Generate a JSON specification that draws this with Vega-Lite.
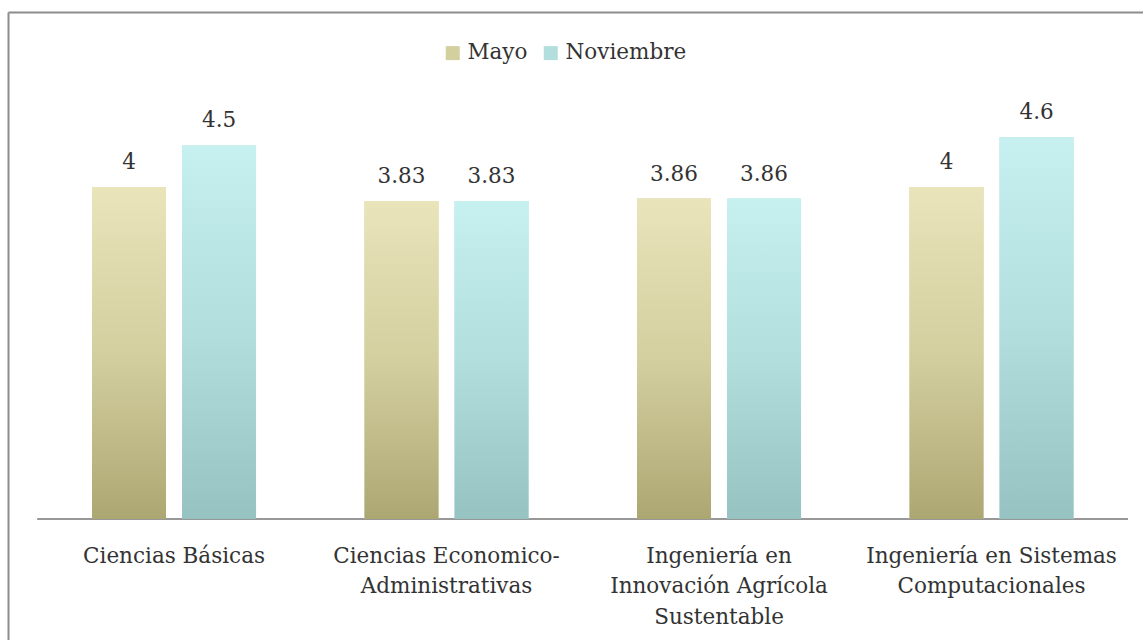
{
  "$schema": "https://vega.github.io/schema/vega-lite/v6.json",
  "autosize": "none",
  "width": 1135,
  "height": 628,
  "padding": {"left": 8, "top": 12, "right": 0, "bottom": 0},
  "background": "white",
  "config": {
    "view": {"stroke": null},
    "font": "DejaVu Serif",
    "legend": {"padding": 0}
  },
  "data": {
    "values": [
      {"Area": "Ciencias Básicas", "Periodo": "Mayo", "Valor": 4},
      {"Area": "Ciencias Básicas", "Periodo": "Noviembre", "Valor": 4.5},
      {"Area": "Ciencias Economico-Administrativas", "Periodo": "Mayo", "Valor": 3.83},
      {"Area": "Ciencias Economico-Administrativas", "Periodo": "Noviembre", "Valor": 3.83},
      {"Area": "Ingeniería en Innovación Agrícola Sustentable", "Periodo": "Mayo", "Valor": 3.86},
      {"Area": "Ingeniería en Innovación Agrícola Sustentable", "Periodo": "Noviembre", "Valor": 3.86},
      {"Area": "Ingeniería en Sistemas Computacionales", "Periodo": "Mayo", "Valor": 4},
      {"Area": "Ingeniería en Sistemas Computacionales", "Periodo": "Noviembre", "Valor": 4.6}
    ]
  },
  "encoding": {
    "y": {
      "field": "Valor",
      "type": "quantitative",
      "scale": {"domain": [-1.4578, 6.108], "range": [628, 0], "nice": false, "zero": false},
      "axis": {
        "title": null,
        "orient": "left",
        "values": [6.108],
        "labels": false,
        "ticks": false,
        "domain": true,
        "domainColor": "#8c8c8c",
        "domainWidth": 2,
        "grid": true,
        "gridColor": "#8c8c8c",
        "gridWidth": 2,
        "gridOpacity": 1
      }
    }
  },
  "layer": [
    {
      "mark": {"type": "rule", "color": "#999999", "strokeWidth": 1.5},
      "encoding": {
        "x": {"datum": "Ciencias Básicas", "type": "nominal", "bandPosition": -0.3308},
        "x2": {"datum": "Ingeniería en Sistemas Computacionales", "bandPosition": 1.3308},
        "y": {"datum": 0, "type": "quantitative"}
      }
    },
    {
      "mark": {"type": "bar"},
      "encoding": {
        "x": {
          "field": "Area",
          "type": "nominal",
          "sort": null,
          "scale": {
            "domain": ["Ciencias Básicas", "Ciencias Economico-Administrativas", "Ingeniería en Innovación Agrícola Sustentable", "Ingeniería en Sistemas Computacionales"],
            "paddingInner": 0.398,
            "paddingOuter": 0.28156,
            "align": 0.5474
          },
          "axis": {
            "title": null,
            "orient": "bottom",
            "offset": -121,
            "domain": false,
            "ticks": false,
            "tickSize": 0,
            "labelAngle": 0,
            "labelAlign": "center",
            "labelBaseline": "alphabetic",
            "labelPadding": 43,
            "labelLineHeight": 30.5,
            "labelFont": "DejaVu Serif",
            "labelFontSize": 21.5,
            "labelColor": "#333333",
            "labelLimit": 0,
            "labelExpr": "datum.value == 'Ciencias Economico-Administrativas' ? ['Ciencias Economico-', 'Administrativas'] : datum.value == 'Ingeniería en Innovación Agrícola Sustentable' ? ['Ingeniería en', 'Innovación Agrícola', 'Sustentable'] : datum.value == 'Ingeniería en Sistemas Computacionales' ? ['Ingeniería en Sistemas', 'Computacionales'] : datum.value"
          }
        },
        "xOffset": {
          "field": "Periodo",
          "type": "nominal",
          "scale": {"domain": ["Mayo", "Noviembre"], "paddingInner": 0.178, "paddingOuter": 0}
        },
        "y2": {"datum": 0},
        "color": {
          "field": "Periodo",
          "type": "nominal",
          "scale": {"domain": ["Mayo", "Noviembre"], "range": ["#D4CF9F", "#B2DEDE"]},
          "legend": {
            "title": null,
            "orient": "none",
            "legendX": 434,
            "legendY": 30,
            "direction": "horizontal",
            "symbolType": "square",
            "symbolSize": 196,
            "symbolStrokeWidth": 0,
            "labelOffset": 4,
            "columnPadding": 12,
            "labelFont": "DejaVu Serif",
            "labelFontSize": 21.5,
            "labelColor": "#333333"
          }
        }
      }
    },
    {
      "mark": {"type": "bar"},
      "encoding": {
        "x": {"field": "Area", "type": "nominal", "sort": null},
        "xOffset": {"field": "Periodo", "type": "nominal"},
        "y2": {"datum": 0},
        "fill": {
          "condition": {
            "test": "datum.Periodo === 'Mayo'",
            "value": {"gradient": "linear", "x1": 1, "y1": 0, "x2": 1, "y2": 1, "stops": [{"offset": 0, "color": "#E9E4BA"}, {"offset": 0.5, "color": "#D4CF9F"}, {"offset": 1, "color": "#ACA772"}]}
          },
          "value": {"gradient": "linear", "x1": 1, "y1": 0, "x2": 1, "y2": 1, "stops": [{"offset": 0, "color": "#C7F0F0"}, {"offset": 0.5, "color": "#B2DEDE"}, {"offset": 1, "color": "#97C2C2"}]}
        }
      }
    },
    {
      "mark": {"type": "text", "baseline": "alphabetic", "align": "center", "dy": -18, "fontSize": 21.5, "font": "DejaVu Serif", "color": "#333333"},
      "encoding": {
        "x": {"field": "Area", "type": "nominal", "sort": null},
        "xOffset": {"field": "Periodo", "type": "nominal"},
        "text": {"field": "Valor", "type": "quantitative"}
      }
    }
  ]
}
